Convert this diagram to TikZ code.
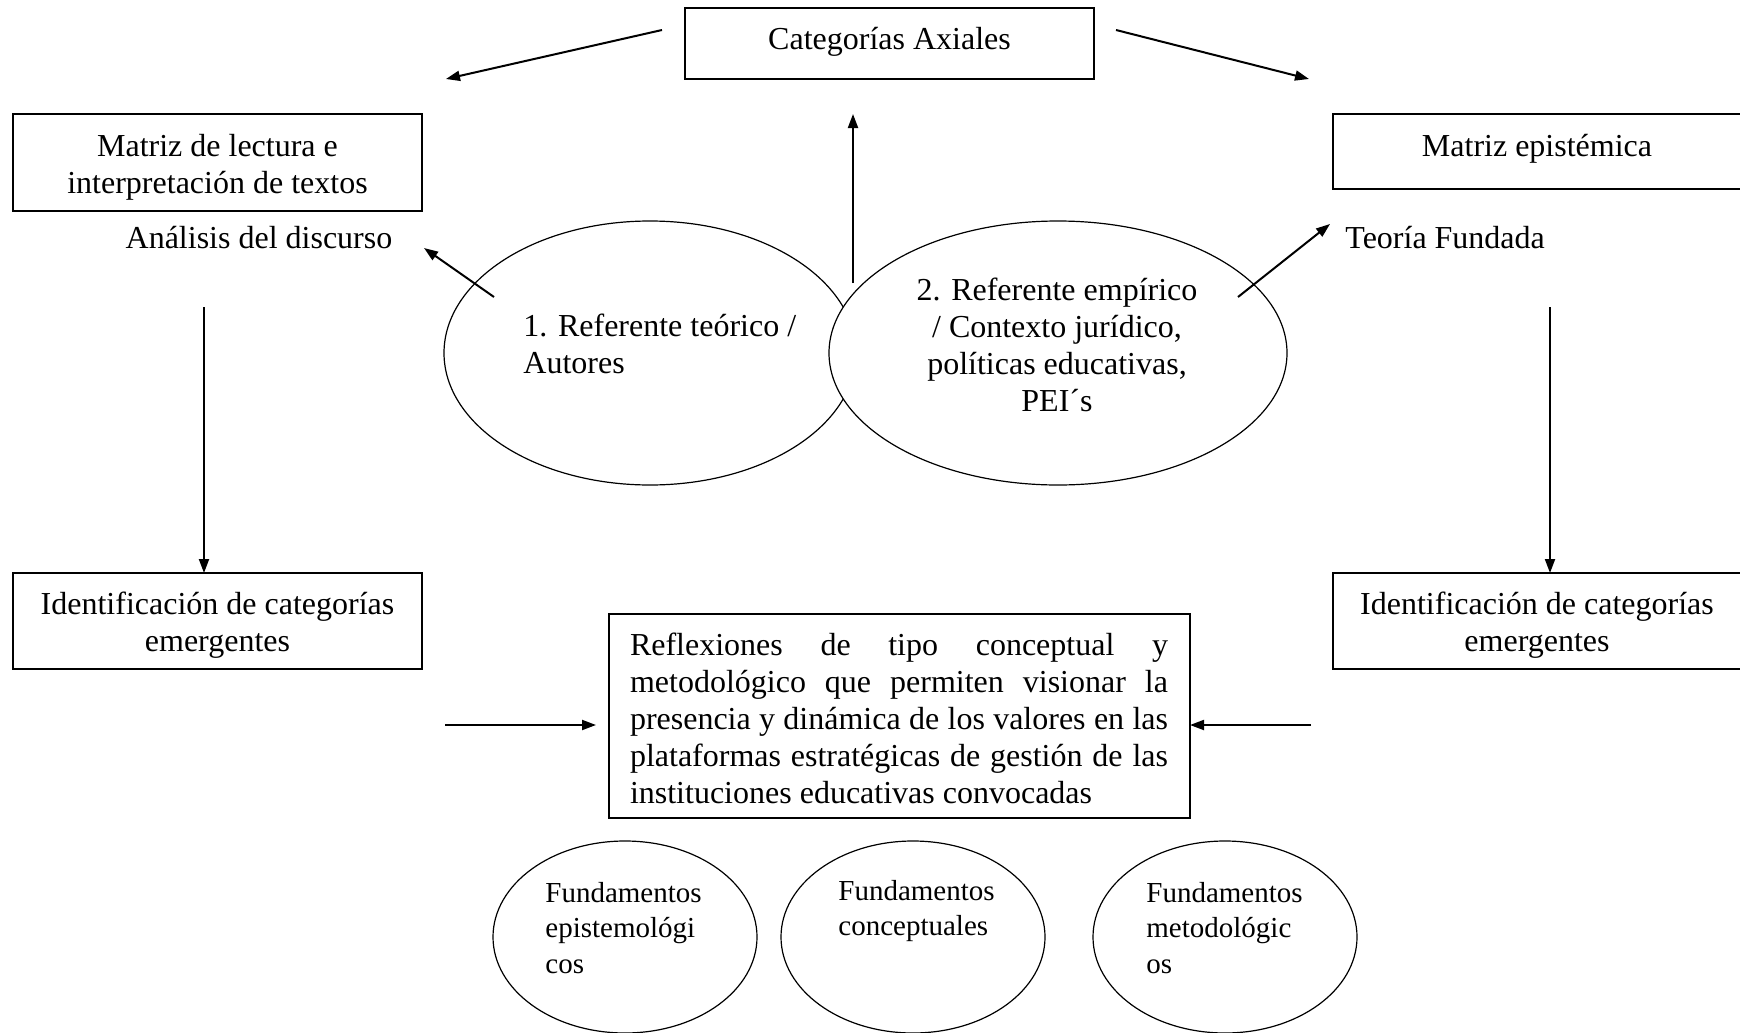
\documentclass[tikz,border=0pt]{standalone}
\usepackage{fontspec}
\setmainfont{Liberation Serif}
\usetikzlibrary{arrows.meta,shapes.geometric}

\tikzset{
  box/.style={draw, line width=0.75pt, rectangle, inner sep=0pt},
  oval/.style={draw, line width=0.6pt, ellipse, inner sep=0pt},
  lbl/.style={inner sep=0pt, font=\fontsize{16}{18.5}\selectfont},
  small/.style={inner sep=0pt, font=\fontsize{14.5}{17.8}\selectfont, align=left},
  arr/.style={line width=1pt, -{Triangle[length=7pt,width=5pt]}},
}

\begin{document}
\begin{tikzpicture}[x=0.5pt,y=-0.5pt]
\useasboundingbox (0,0) rectangle (1740,1033);

% boxes
\node[box, minimum width=204.5pt, minimum height=35.5pt] (axial) at (889.5,43.5) {};
\node[lbl] (axialT) at (889.5,42) {Categorías Axiales};

\node[box, minimum width=204.5pt, minimum height=48.5pt] (lect) at (217.5,162.5) {};
\node[lbl, align=center] (lectT) at (217.5,167) {Matriz de lectura e\\interpretación de textos};
\node[lbl] (disc) at (259,238) {Análisis del discurso};

% right boxes run past the page edge
\draw[line width=0.75pt] (1760,114) -- (1333,114) -- (1333,189) -- (1760,189);
\node[lbl] (epiT) at (1537,149) {Matriz epistémica};
\node[lbl, anchor=west] (teoria) at (1345,238) {Teoría Fundada};

\node[box, minimum width=204.5pt, minimum height=48pt] (idL) at (217.5,621) {};
\node[lbl, align=center] (idLT) at (217.5,625) {Identificación de categorías\\emergentes};

\draw[line width=0.75pt] (1760,573) -- (1333,573) -- (1333,669) -- (1760,669);
\coordinate (idRtop) at (1550,573);
\node[lbl, align=center] (idRT) at (1537,625) {Identificación de categorías\\emergentes};

% central reflection box
\node[box, minimum width=290.5pt, minimum height=102pt] (refl) at (899.5,716) {};
\node[lbl, align=left] (reflT) at (899,718) {%
\makebox[269pt][s]{Reflexiones de tipo conceptual y}\\
\makebox[269pt][s]{metodológico que permiten visionar la}\\
\makebox[269pt][s]{presencia y dinámica de los valores en las}\\
\makebox[269pt][s]{plataformas estratégicas de gestión de las}\\
\makebox[269pt][l]{instituciones educativas convocadas}};

% overlapping referents (the second one covers the first)
\node[oval, minimum width=206pt, minimum height=132pt] (teo) at (650,353) {};
\node[oval, fill=white, minimum width=229pt, minimum height=132pt] (emp) at (1058,353) {};
\node[lbl, anchor=west, align=left] (teoT) at (523,344) {1. Referente teórico /\\Autores};
\node[lbl, align=center] (empT) at (1057,345) {2. Referente empírico\\/ Contexto jurídico,\\políticas educativas,\\PEI´s};

% foundations
\node[oval, minimum width=132pt, minimum height=96pt] (f1) at (625,937) {};
\node[oval, minimum width=132pt, minimum height=96pt] (f2) at (913,937) {};
\node[oval, minimum width=132pt, minimum height=96pt] (f3) at (1225,937) {};
\node[small, anchor=west] (f1T) at (545,928) {Fundamentos\\epistemológi\\cos};
\node[small, anchor=west] (f2T) at (838,911) {Fundamentos\\conceptuales};
\node[small, anchor=west] (f3T) at (1146,928) {Fundamentos\\metodológic\\os};

% arrow end points
\coordinate (a1s) at (662,30);   \coordinate (a1e) at (446,79);
\coordinate (a2s) at (1116,30);  \coordinate (a2e) at (1309,79);
\coordinate (a3s) at (853,283);  \coordinate (a3e) at (853,114);
\coordinate (a4s) at (494,297);  \coordinate (a4e) at (424,248);
\coordinate (a5s) at (1238,297); \coordinate (a5e) at (1330,224);
\coordinate (a6s) at (204,307);
\coordinate (idLtop) at (204,573);
\coordinate (a7s) at (1550,307);
\coordinate (a8s) at (445,725);  \coordinate (a8e) at (596,725);
\coordinate (a9s) at (1311,725); \coordinate (a9e) at (1190,725);

\draw[arr] (a1s) -- (a1e);
\draw[arr] (a2s) -- (a2e);
\draw[arr] (a3s) -- (a3e);
\draw[arr] (a4s) -- (a4e);
\draw[arr] (a5s) -- (a5e);
\draw[arr] (a6s) -- (idLtop);
\draw[arr] (a7s) -- (idRtop);
\draw[arr] (a8s) -- (a8e);
\draw[arr] (a9s) -- (a9e);

\end{tikzpicture}
\end{document}
